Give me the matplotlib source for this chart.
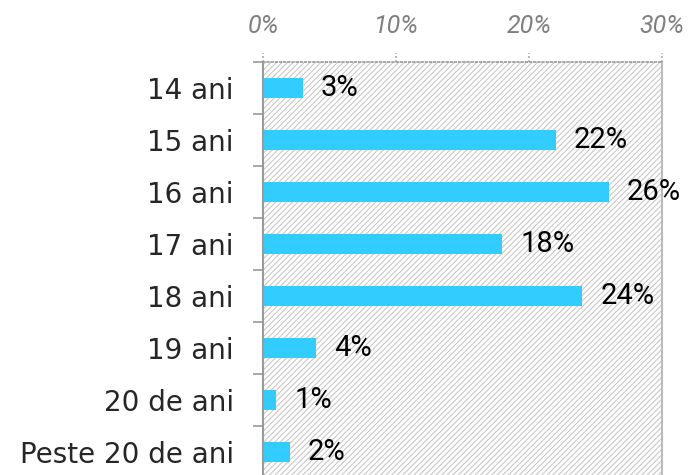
import matplotlib
matplotlib.use("Agg")
import matplotlib.pyplot as plt
import matplotlib.transforms as mtransforms
from matplotlib.patches import Rectangle

categories = ["14 ani", "15 ani", "16 ani", "17 ani", "18 ani", "19 ani", "20 de ani", "Peste 20 de ani"]
values = [3, 22, 26, 18, 24, 4, 1, 2]
xticks = [0, 10, 20, 30]
xticklabels = ["0%", "10%", "20%", "30%"]

plt.rcParams['font.family'] = ['DejaVu Sans']
plt.rcParams['hatch.color'] = '#c8c8c8'
plt.rcParams['hatch.linewidth'] = 0.8

fig = plt.figure(figsize=(6.89, 4.75), dpi=100)
ax = fig.add_axes([263/689, 1 - 478/475, (662-263)/689, (478-62)/475])

n = len(categories)
ypos = list(range(n))
ax.set_ylim(n - 0.5, -0.5)
ax.set_xlim(0, 30)

# hatched background
bg = Rectangle((0, 0), 1, 1, transform=ax.transAxes, facecolor='white',
               edgecolor='#c8c8c8', hatch='//////', linewidth=0, zorder=0)
ax.add_patch(bg)

ax.barh(ypos, values, height=0.4, color='#33ccff', zorder=2)

for y, v in zip(ypos, values):
    ax.annotate(f"{v}%", xy=(v, y), xytext=(13, 0), textcoords='offset points',
                va='center', ha='left', fontsize=21, color='black', zorder=3,
                family=['Roboto', 'DejaVu Sans'])

# y axis
ax.set_yticks([i + 0.5 for i in range(-1, n)], minor=False)
ax.set_yticklabels([])
ax.set_yticks(ypos, minor=True)
ax.set_yticklabels(categories, minor=True, fontsize=20, color='#262626')
ax.tick_params(axis='y', which='major', direction='out', length=7, color='#999999', width=1.2)
ax.tick_params(axis='y', which='minor', length=0, pad=21)

# x axis on top
ax.xaxis.tick_top()
ax.set_xticks(xticks)
ax.set_xticklabels(xticklabels, fontsize=18, color='#7f7f7f', style='italic',
                   family=['Roboto', 'DejaVu Sans'])
ax.tick_params(axis='x', length=0, pad=17)
trans = mtransforms.blended_transform_factory(ax.transData, ax.transAxes)
for xt in xticks:
    ax.plot([xt, xt], [1.0, 1.022], transform=trans, color='#999999', lw=1.2,
            linestyle=(0, (1, 1.5)), clip_on=False, zorder=4)

ax.spines['bottom'].set_visible(False)
ax.spines['left'].set_color('#999999')
ax.spines['left'].set_linewidth(1.5)
ax.spines['right'].set_color('#bbbbbb')
ax.spines['right'].set_linewidth(1.5)
ax.spines['top'].set_color('#999999')
ax.spines['top'].set_linewidth(1.2)
ax.spines['top'].set_linestyle((0, (1, 1.5)))

fig.savefig("out.png", dpi=100)
